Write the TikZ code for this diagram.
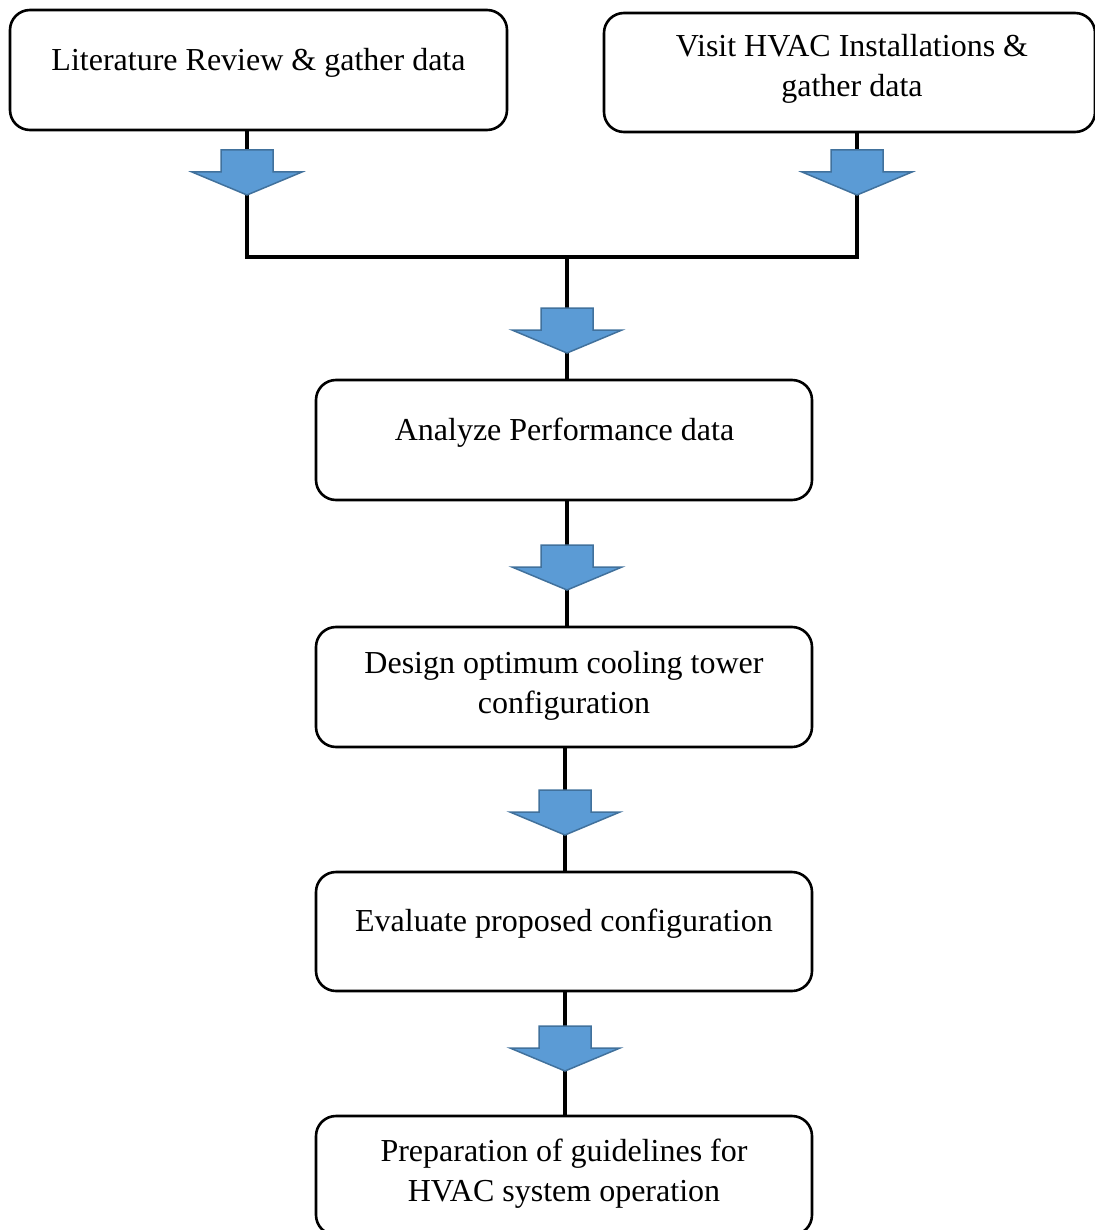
\documentclass[tikz,border=0pt]{standalone}
\usepackage{fontspec}
\setmainfont{Liberation Serif}
\begin{document}
\begin{tikzpicture}[x=1pt,y=-1pt,
  box/.style={draw=black, line width=2.6pt, rounded corners=20pt, inner sep=0pt},
  txt/.style={font=\fontsize{32}{40}\selectfont, align=center, inner sep=0pt, anchor=base},
  conn/.style={draw=black, line width=4pt},
  blockarrow/.pic={\draw[fill={rgb,255:red,91;green,155;blue,213}, draw={rgb,255:red,65;green,113;blue,156}, line width=1.5pt, line join=miter]
     (-26,0) -- (26,0) -- (26,22) -- (55,22) -- (0,45) -- (-55,22) -- (-26,22) -- cycle;}]
\useasboundingbox (0,0) rectangle (1094,1230);
% boxes
\node[box, minimum width=497pt, minimum height=120pt] (b1) at (258.5,70) {};
\node[box, minimum width=491pt, minimum height=119pt] (b2) at (849.5,72.5) {};
\node[box, minimum width=496pt, minimum height=120pt] (b3) at (564,440) {};
\node[box, minimum width=496pt, minimum height=120pt] (b4) at (564,687) {};
\node[box, minimum width=496pt, minimum height=119pt] (b5) at (564,931.5) {};
\node[box, minimum width=496pt, minimum height=119pt] (b6) at (564,1175.5) {};
% texts
\node[txt] (t1) at (258.5,71) {Literature Review \& gather data};
\node[txt] (t2) at (852,97) {Visit HVAC Installations \&\\gather data};
\node[txt] (t3) at (564.5,440) {Analyze Performance data};
\node[txt] (t4) at (564,713) {Design optimum cooling tower\\configuration};
\node[txt] (t5) at (564,931) {Evaluate proposed configuration};
\node[txt] (t6) at (564,1201) {Preparation of guidelines for\\HVAC system operation};
% connectors
\coordinate (j) at (567,257);
\draw[conn] ([xshift=-11.5pt]b1.south) |- (j);
\draw[conn] ([xshift=7.5pt]b2.south) |- (j);
\draw[conn] (j) -- ([xshift=3pt]b3.north);
\draw[conn] ([xshift=3pt]b3.south) -- ([xshift=3pt]b4.north);
\draw[conn] ([xshift=1pt]b4.south) -- ([xshift=1pt]b5.north);
\draw[conn] ([xshift=1pt]b5.south) -- ([xshift=1pt]b6.north);
% block arrows
\pic at (247,150) {blockarrow};
\pic at (857,150) {blockarrow};
\pic at (567,308) {blockarrow};
\pic at (567,545) {blockarrow};
\pic at (565,790) {blockarrow};
\pic at (565,1026) {blockarrow};
\end{tikzpicture}
\end{document}
